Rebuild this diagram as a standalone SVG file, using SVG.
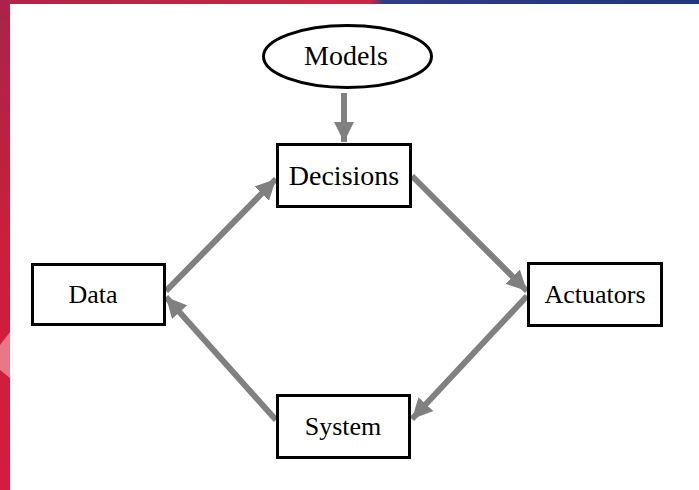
<svg xmlns="http://www.w3.org/2000/svg" width="699" height="490" viewBox="0 0 699 490">
<defs>
<linearGradient id="redg" x1="0" y1="0" x2="0" y2="1">
<stop offset="0" stop-color="#a82448"/>
<stop offset="0.5" stop-color="#cc1f3a"/>
<stop offset="1" stop-color="#d41c40"/>
</linearGradient>
<linearGradient id="topg" x1="0" y1="0" x2="1" y2="0">
<stop offset="0" stop-color="#b02346"/>
<stop offset="0.53" stop-color="#c42a44"/>
<stop offset="0.55" stop-color="#2d3c86"/>
<stop offset="1" stop-color="#22357e"/>
</linearGradient>
<marker id="ah" viewBox="0 0 10 10" refX="10" refY="5" markerWidth="3.4" markerHeight="3.4" orient="auto" markerUnits="strokeWidth">
<path d="M0,0 L10,5 L0,10 Z" fill="#808080"/>
</marker>
<style>
.box{fill:#fff;stroke:#000;stroke-width:3}
text{font-family:'Liberation Serif','Times New Roman',serif;fill:#000;text-anchor:middle}
.big{font-size:28px}
.sm{font-size:26px}
.con{stroke:#808080;stroke-width:6;fill:none;marker-end:url(#ah)}
</style>
</defs>
<rect x="0" y="0" width="699" height="490" fill="#fff"/>
<rect x="0" y="0" width="699" height="4" fill="url(#topg)"/>
<rect x="0" y="0" width="10" height="490" fill="url(#redg)"/>
<path d="M0,345 L10,332 L10,378 L0,370 Z" fill="#e87888"/>
<g id="connectors">
<line class="con" x1="344" y1="93" x2="344" y2="142"/>
<line class="con" x1="166" y1="291" x2="276" y2="179"/>
<line class="con" x1="412" y1="176" x2="527" y2="291"/>
<line class="con" x1="527" y1="296" x2="412" y2="419"/>
<line class="con" x1="276" y1="420" x2="166" y2="297"/>
</g>
<g id="models">
<ellipse cx="347.5" cy="56.5" rx="84" ry="31" fill="#fff" stroke="#000" stroke-width="3"/>
<text class="big" x="346" y="65" font-family="Liberation Serif, serif">Models</text>
</g>
<g id="decisions">
<rect class="box" x="277.5" y="144.5" width="133" height="62"/>
<text class="big" x="344" y="185" font-family="Liberation Serif, serif">Decisions</text>
</g>
<g id="data">
<rect class="box" x="32.5" y="264.5" width="132" height="60"/>
<text class="sm" x="93" y="303" font-family="Liberation Serif, serif">Data</text>
</g>
<g id="actuators">
<rect class="box" x="528.5" y="263.5" width="133" height="62"/>
<text class="sm" x="595" y="303" font-family="Liberation Serif, serif">Actuators</text>
</g>
<g id="system">
<rect class="box" x="277.5" y="395.5" width="132" height="62"/>
<text class="sm" x="343" y="435" font-family="Liberation Serif, serif">System</text>
</g>
</svg>
